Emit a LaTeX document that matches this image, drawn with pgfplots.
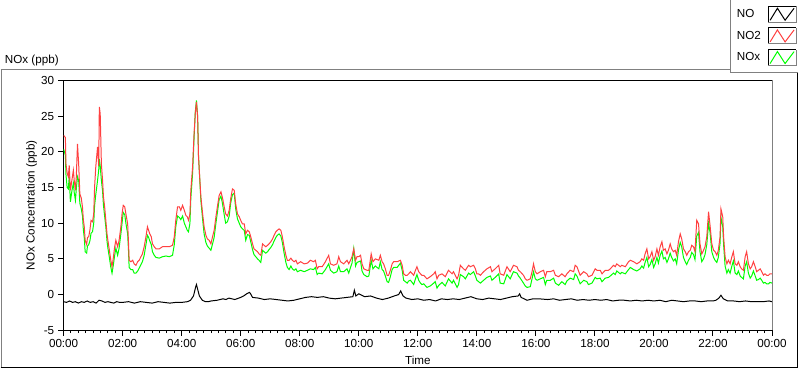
\documentclass[border=0pt]{standalone}
\usepackage{fontspec}
\setmainfont{Liberation Sans}
\usepackage{pgfplots}
\usepackage{pgfplotstable}
\pgfplotsset{compat=1.18}
\definecolor{noxgreen}{RGB}{0,255,0}
\definecolor{notwored}{RGB}{255,64,64}
\definecolor{framegray}{RGB}{128,128,128}

\pgfplotstableread{
t no2 nox
0.00 22.3 20.4
0.06 22.0 19.5
0.08 18.3 16.8
0.12 17.0 15.0
0.16 16.5 14.8
0.19 18.1 16.5
0.23 14.6 13.0
0.28 16.0 14.5
0.33 17.4 15.6
0.36 16.0 14.3
0.40 14.6 13.2
0.43 16.5 14.8
0.47 21.1 16.5
0.51 18.3 16.0
0.55 14.1 12.8
0.60 13.5 12.0
0.64 12.2 11.0
0.67 10.4 9.0
0.70 9.5 8.0
0.73 7.6 6.0
0.78 7.0 5.8
0.81 8.0 6.8
0.85 8.1 7.0
0.89 9.0 7.5
0.93 10.4 8.6
0.98 10.2 8.8
1.02 11.3 10.0
1.05 15.1 12.5
1.09 17.9 14.0
1.15 20.7 16.0
1.19 18.0 17.5
1.21 26.3 19.0
1.24 25.3 18.0
1.28 18.3 16.0
1.32 16.0 14.5
1.35 13.7 12.5
1.39 12.3 11.0
1.43 10.4 9.5
1.47 8.5 7.5
1.50 7.6 6.5
1.55 6.2 5.2
1.60 4.8 3.8
1.64 3.9 3.0
1.68 5.0 4.0
1.73 6.7 5.5
1.77 7.6 6.5
1.83 6.7 5.5
1.88 7.6 6.5
1.94 9.5 8.5
1.98 11.3 10.0
2.02 12.5 11.5
2.07 12.3 11.2
2.11 11.3 10.0
2.17 9.9 8.5
2.20 7.1 6.0
2.22 4.8 3.8
2.28 4.6 3.5
2.34 4.8 3.5
2.39 4.3 3.0
2.45 4.1 3.0
2.51 4.6 3.3
2.56 4.8 3.7
2.62 5.3 4.2
2.67 5.7 4.6
2.73 6.7 5.5
2.79 8.1 7.0
2.84 9.5 8.3
2.88 9.0 8.0
2.92 8.5 7.5
2.97 8.1 7.0
3.01 7.1 6.0
3.07 6.7 5.5
3.13 6.4 5.2
3.24 6.4 5.1
3.35 6.7 5.3
3.47 6.7 5.4
3.58 6.7 5.3
3.69 6.9 5.5
3.75 8.1 7.0
3.80 10.4 9.5
3.86 12.3 11.0
3.92 12.3 10.8
3.97 11.8 10.5
4.03 12.5 11.0
4.09 11.8 10.0
4.14 11.1 9.5
4.19 10.9 9.0
4.23 10.4 8.8
4.28 11.3 10.0
4.31 14.6 13.5
4.37 17.9 17.0
4.42 22.5 22.0
4.46 25.3 25.5
4.50 27.0 27.2
4.54 24.9 25.0
4.57 19.3 19.5
4.61 16.5 16.3
4.65 13.7 13.2
4.71 11.3 10.5
4.76 9.5 8.5
4.82 8.3 7.3
4.87 7.8 6.8
4.93 7.6 6.5
4.99 7.1 6.2
5.04 8.0 7.0
5.10 9.0 8.0
5.16 10.9 10.0
5.21 12.3 11.5
5.27 13.9 13.3
5.33 14.4 13.8
5.38 13.6 12.8
5.44 12.3 11.2
5.49 11.3 10.0
5.55 11.0 10.2
5.61 11.8 11.0
5.66 13.4 12.8
5.72 14.8 14.0
5.78 14.6 14.2
5.83 12.7 12.0
5.89 11.3 10.6
5.95 10.9 10.0
6.00 10.4 9.5
6.06 9.9 9.2
6.12 9.9 9.0
6.17 8.5 7.6
6.23 9.0 8.4
6.29 8.8 8.3
6.34 8.1 7.4
6.40 7.1 6.3
6.45 6.4 5.6
6.51 6.2 5.3
6.57 6.0 5.0
6.62 5.7 4.8
6.68 5.5 4.5
6.74 7.1 6.2
6.79 6.9 6.0
6.85 6.7 5.8
6.91 6.9 6.0
6.96 7.1 6.3
7.02 7.4 6.6
7.08 7.8 7.0
7.13 8.3 7.5
7.19 8.8 8.0
7.24 9.0 8.3
7.30 9.2 8.5
7.36 9.0 8.2
7.41 8.1 7.3
7.47 6.7 5.8
7.53 5.5 4.5
7.58 4.8 3.8
7.64 4.8 3.5
7.70 5.1 4.0
7.75 4.8 3.6
7.81 4.6 3.4
7.87 4.8 3.6
7.92 4.3 3.2
8.03 4.6 3.4
8.15 4.3 3.2
8.26 4.4 3.4
8.36 4.8 3.6
8.47 4.6 3.5
8.53 4.8 3.8
8.59 3.6 2.8
8.64 3.9 3.0
8.76 3.9 2.9
8.87 4.6 3.5
8.98 5.5 4.3
9.04 4.3 3.4
9.15 4.1 3.0
9.26 4.3 3.2
9.32 5.3 4.0
9.38 4.6 3.2
9.49 4.3 3.2
9.60 4.8 3.6
9.66 4.3 3.0
9.72 4.8 3.8
9.77 5.3 4.4
9.83 6.4 6.4
9.89 4.8 4.0
9.94 5.3 4.5
10.00 5.3 4.6
10.06 5.5 4.7
10.11 4.3 3.3
10.17 3.6 2.8
10.28 3.4 2.5
10.34 3.4 2.6
10.42 5.7 4.8
10.48 4.6 3.6
10.56 5.0 4.0
10.68 4.8 3.6
10.73 5.5 4.6
10.79 4.6 3.5
10.84 4.3 3.3
10.90 3.6 2.6
10.96 2.7 1.8
11.01 2.7 1.7
11.07 3.4 2.5
11.13 4.3 3.5
11.18 4.6 3.8
11.30 4.6 3.8
11.41 4.8 4.4
11.47 4.1 3.4
11.52 2.9 2.0
11.58 2.7 1.8
11.64 2.7 1.6
11.69 2.9 1.9
11.75 3.2 2.0
11.86 2.7 1.4
11.92 3.4 2.2
11.97 3.9 2.8
12.03 3.2 2.0
12.09 2.9 1.6
12.14 2.7 1.4
12.20 2.7 1.5
12.31 2.2 1.0
12.42 2.5 1.2
12.54 2.9 1.6
12.59 3.2 1.8
12.65 2.2 0.9
12.71 2.7 1.3
12.82 2.9 1.7
12.93 2.5 1.2
13.04 3.4 2.2
13.16 2.9 1.6
13.21 3.2 2.0
13.33 2.2 1.0
13.38 2.7 1.4
13.44 4.1 2.8
13.55 3.6 2.5
13.61 3.4 2.2
13.72 4.1 3.0
13.78 3.9 2.8
13.89 4.1 3.2
13.95 3.6 2.6
14.00 2.9 2.0
14.06 2.9 1.8
14.12 2.7 1.6
14.23 3.2 2.0
14.34 3.6 2.4
14.46 3.9 2.6
14.51 3.2 2.0
14.62 3.6 2.4
14.74 4.1 2.9
14.79 2.9 1.6
14.91 2.7 1.5
15.02 3.9 2.8
15.13 3.2 2.2
15.24 4.1 3.2
15.36 3.9 3.0
15.41 3.4 2.6
15.47 3.2 2.3
15.58 2.7 1.6
15.64 2.2 1.2
15.70 2.0 1.0
15.81 2.2 1.1
15.87 3.2 2.2
15.92 4.3 3.2
15.98 3.2 2.2
16.04 2.9 2.0
16.15 3.2 2.2
16.26 3.4 2.4
16.32 2.5 1.4
16.37 3.2 2.0
16.49 3.2 2.0
16.60 3.4 2.3
16.66 2.7 1.6
16.77 2.5 1.3
16.88 2.9 1.8
16.99 2.5 1.4
17.05 2.9 1.9
17.16 3.4 2.3
17.28 3.2 2.1
17.33 4.1 2.9
17.39 3.9 2.6
17.50 2.7 1.5
17.62 3.2 2.0
17.73 2.9 1.8
17.78 2.5 1.4
17.90 2.7 1.6
18.01 3.6 2.4
18.07 3.4 2.2
18.18 3.4 2.3
18.24 2.9 1.8
18.35 3.4 2.3
18.46 3.4 2.4
18.52 3.6 2.6
18.63 4.1 3.0
18.69 3.9 2.8
18.74 4.3 3.3
18.86 3.9 2.9
18.91 4.1 3.1
19.03 3.9 2.9
19.14 4.6 3.5
19.20 4.8 3.8
19.31 4.6 3.5
19.42 4.3 3.3
19.53 4.6 3.6
19.59 5.0 4.0
19.65 4.8 3.7
19.70 5.7 4.5
19.76 6.4 5.2
19.82 5.0 3.9
19.87 5.3 4.2
19.93 6.0 4.9
19.99 4.8 3.8
20.04 5.3 4.3
20.10 6.4 5.2
20.15 5.5 4.4
20.21 6.7 5.5
20.27 7.4 6.1
20.32 6.2 5.0
20.38 6.4 5.2
20.44 5.7 4.5
20.49 6.2 5.0
20.55 7.1 5.8
20.60 6.4 5.2
20.66 6.0 4.7
20.72 6.2 5.0
20.77 5.5 4.3
20.83 7.4 6.2
20.89 8.5 7.3
20.94 7.8 6.7
21.00 6.4 5.2
21.06 6.0 4.6
21.11 5.5 4.2
21.17 6.0 4.8
21.23 6.2 5.2
21.28 6.9 5.9
21.34 6.7 5.6
21.39 6.0 4.9
21.45 10.4 8.2
21.51 9.9 8.7
21.56 7.1 6.0
21.62 5.7 4.6
21.68 6.2 5.0
21.73 6.7 5.6
21.79 8.1 7.0
21.85 11.6 10.0
21.90 9.7 8.7
21.96 7.1 6.0
22.02 6.2 5.2
22.07 6.0 4.8
22.13 5.5 4.5
22.18 6.2 5.2
22.24 8.1 7.2
22.27 12.0 10.8
22.33 10.9 9.5
22.36 8.1 7.0
22.41 5.3 4.0
22.47 4.3 3.0
22.52 4.8 3.5
22.58 4.3 3.0
22.64 5.3 4.0
22.69 6.0 4.7
22.75 4.3 3.0
22.81 4.1 2.8
22.86 4.6 3.3
22.92 3.9 2.6
22.97 3.6 2.4
23.03 3.4 2.2
23.09 5.3 4.0
23.14 6.0 4.6
23.20 4.3 3.0
23.26 3.6 2.3
23.31 3.9 2.6
23.37 4.6 3.3
23.43 3.9 2.6
23.48 3.2 2.0
23.54 3.4 2.1
23.60 3.6 2.3
23.65 3.2 2.0
23.71 2.7 1.6
23.76 2.9 1.7
23.82 2.7 1.5
23.88 2.7 1.5
23.93 2.9 1.7
24.00 2.9 1.6
}\tabA

\pgfplotstableread{
t no
0.0 -1.0
0.1 -1.1
0.2 -0.9
0.3 -1.1
0.4 -1.0
0.5 -1.2
0.6 -1.0
0.7 -1.1
0.8 -0.9
0.9 -1.1
1.0 -1.0
1.1 -1.2
1.2 -0.8
1.3 -0.9
1.4 -1.1
1.5 -1.0
1.6 -1.1
1.7 -1.2
1.8 -1.0
1.9 -1.1
2.0 -1.1
2.2 -1.0
2.4 -1.2
2.6 -1.0
2.8 -1.1
3.0 -1.2
3.2 -1.0
3.4 -1.1
3.6 -1.2
3.8 -1.1
4.0 -1.1
4.2 -1.0
4.3 -0.8
4.4 -0.2
4.47 1.0
4.5 1.4
4.55 0.6
4.6 -0.2
4.7 -0.8
4.8 -1.0
4.9 -1.0
5.0 -0.9
5.2 -0.8
5.4 -0.6
5.5 -0.7
5.6 -0.5
5.8 -0.7
6.0 -0.4
6.1 -0.2
6.2 0.1
6.3 0.3
6.35 0.0
6.4 -0.4
6.6 -0.5
6.8 -0.7
7.0 -0.6
7.2 -0.7
7.4 -0.8
7.6 -0.9
7.8 -0.8
8.0 -0.6
8.2 -0.4
8.4 -0.3
8.6 -0.4
8.8 -0.3
9.0 -0.5
9.2 -0.6
9.4 -0.5
9.6 -0.4
9.8 -0.3
9.85 0.6
9.9 -0.2
10.0 0.1
10.1 -0.1
10.2 -0.3
10.4 -0.2
10.6 -0.5
10.8 -0.7
11.0 -0.5
11.2 -0.2
11.35 0.0
11.42 0.5
11.5 -0.2
11.6 -0.5
11.8 -0.7
12.0 -0.6
12.2 -0.8
12.4 -0.7
12.6 -0.9
12.8 -0.6
13.0 -0.7
13.2 -0.6
13.4 -0.7
13.6 -0.5
13.8 -0.3
14.0 -0.6
14.2 -0.7
14.4 -0.5
14.6 -0.6
14.8 -0.7
15.0 -0.5
15.2 -0.3
15.4 -0.2
15.45 0.1
15.5 -0.4
15.7 -0.8
15.9 -0.6
16.1 -0.6
16.4 -0.7
16.6 -0.6
16.8 -0.8
17.0 -0.7
17.2 -0.6
17.4 -0.8
17.6 -0.7
17.8 -0.8
18.0 -0.7
18.2 -0.8
18.4 -0.7
18.6 -0.9
18.8 -0.8
19.0 -0.8
19.2 -0.9
19.4 -0.8
19.6 -0.9
19.8 -0.8
20.0 -0.9
20.2 -0.8
20.4 -1.0
20.6 -0.8
20.8 -0.9
21.0 -1.0
21.2 -0.9
21.4 -0.9
21.6 -1.0
21.8 -0.9
22.0 -0.9
22.1 -0.8
22.2 -0.5
22.27 -0.1
22.35 -0.6
22.5 -0.9
22.7 -0.9
22.9 -1.0
23.1 -0.9
23.3 -1.0
23.5 -1.0
23.7 -1.0
23.9 -0.9
24.0 -1.0
}\tabB

\begin{document}
\fontsize{8.75}{10}\selectfont
\begin{tikzpicture}
\begin{scope}[x=0.75pt,y=-0.75pt,shift={(-47.25pt,247.5pt)}]
\path[use as bounding box] (0,0) rectangle (800,369);
\end{scope}
\begin{axis}[
  scale only axis, width=531.75pt, height=187.5pt,
  xmin=0, xmax=24, ymin=-5, ymax=30,
  xtick={0,2,...,24},
  xticklabels={00:00,02:00,04:00,06:00,08:00,10:00,12:00,14:00,16:00,18:00,20:00,22:00,00:00},
  minor x tick num=7,
  ytick={-5,0,...,30},
  yticklabels={-5,0,5,10,15,20,25,30},
  tick align=outside, tick pos=left,
  major tick length=4pt, minor tick length=2.25pt,
  every tick/.style={black, line width=0.75pt},
  axis line style={black, line width=0.75pt},
  xlabel={Time}, ylabel={NOx Concentration (ppb)},
  every axis x label/.style={at={(axis description cs:0.5,-0.12)}, anchor=center},
  every axis y label/.style={at={(axis description cs:-0.0451,0.5)}, rotate=90, anchor=center},
  reverse legend,
  legend cell align=left,
  legend plot pos=right,
  legend style={at={(axis description cs:0.9464,1.30)}, anchor=north west, draw=none, fill=none, inner sep=0pt, row sep=3.5pt, column sep=3pt, font=\fontsize{8.75}{10}\selectfont},
  legend image code/.code={
    \fill[white] (0pt,-6pt) rectangle (21pt,6pt);
    \draw[black,line width=0.75pt] (0pt,-6pt) -- (0pt,6pt) -- (21pt,6pt);
    \draw[framegray,line width=0.75pt] (0pt,-6pt) -- (21pt,-6pt) -- (21pt,6pt);
    \draw[#1] (1.5pt,-4.5pt) -- (7pt,4.5pt) -- (12.75pt,-4.5pt) -- (19.5pt,4.5pt);
  },
]
\addplot[noxgreen, line width=0.75pt] table[x=t,y=nox]{\tabA};
\addlegendentry{NOx}
\addplot[notwored, line width=0.75pt] table[x=t,y=no2]{\tabA};
\addlegendentry{NO2}
\addplot[black, line width=0.75pt] table[x=t,y=no]{\tabB};
\addlegendentry{NO}
\end{axis}
\begin{scope}[x=0.75pt,y=-0.75pt,shift={(-47.25pt,247.5pt)}]
\draw[framegray, line width=0.75pt] (0,69.5) -- (730.5,69.5);
\draw[framegray, line width=0.75pt] (0.5,69.5) -- (0.5,367);
\draw[black, line width=1pt] (0,367) -- (797.5,367);
\draw[black, line width=0.75pt] (797.5,72.5) -- (797.5,367);
\draw[framegray, line width=0.75pt] (730.5,0) -- (730.5,72.5) -- (797.5,72.5);
\draw[framegray, line width=0.75pt] (772,80) -- (772,330);
\node[anchor=west, inner sep=0pt] at (4,60) {NOx (ppb)};
\end{scope}
\end{tikzpicture}
\end{document}
